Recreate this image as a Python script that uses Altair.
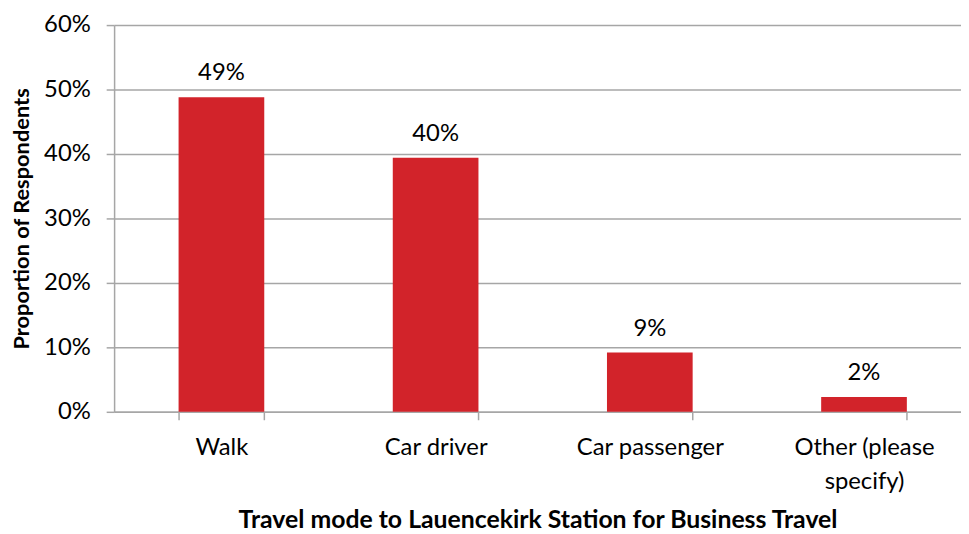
import altair as alt
import pandas as pd

categories = ["Walk", "Car driver", "Car passenger", "Other (please specify)"]
values = [0.488, 0.394, 0.092, 0.023]
labels = ["49%", "40%", "9%", "2%"]

df = pd.DataFrame({"mode": categories, "share": values, "label": labels})

FONT = "Lato"
RED = "#d2232a"
GRID = "#a6a6a6"
FS = 24

xscale = alt.Scale(paddingInner=0.6, paddingOuter=0.2769, align=0.5435)

x = alt.X(
    "mode:N",
    sort=categories,
    scale=xscale,
    axis=alt.Axis(
        title="Travel mode to Lauencekirk Station for Business Travel",
        titleFont=FONT, titleFontSize=25, titleFontWeight="bold", titleColor="#000",
        titlePadding=15, titleX=427,
        labelFont=FONT, labelFontSize=FS, labelColor="#000", labelAngle=0,
        labelPadding=16, labelLineHeight=34,
        labelExpr="datum.label == 'Other (please specify)' ? ['Other (please', 'specify)'] : datum.label",
        tickBand="extent", tickSize=8, tickColor=GRID, tickWidth=1.5,
        domainColor=GRID, domainWidth=1.5, grid=False,
    ),
)

y = alt.Y(
    "share:Q",
    scale=alt.Scale(domain=[0, 0.6]),
    axis=alt.Axis(
        title="Proportion of Respondents",
        titleFont=FONT, titleFontSize=22, titleFontWeight="bold", titleColor="#000",
        titlePadding=10,
        format=".0%", values=[0, 0.1, 0.2, 0.3, 0.4, 0.5, 0.6],
        labelFont=FONT, labelFontSize=FS, labelColor="#000", labelPadding=16,
        tickSize=8, tickColor=GRID, tickWidth=1.5,
        domainColor=GRID, domainWidth=1.5,
        grid=True, gridColor=GRID, gridWidth=1.5,
    ),
)

base = alt.Chart(df)
bars = base.mark_bar(color=RED).encode(x=x, y=y)
text = base.mark_text(dy=-12, baseline="bottom", font=FONT, fontSize=FS, color="#000").encode(
    x=alt.X("mode:N", sort=categories, scale=xscale), y="share:Q", text="label:N"
)

chart = (
    alt.layer(bars, text)
    .properties(
        width=854,
        height=390,
        autosize=alt.AutoSizeParams(type="none"),
        padding={"left": 107, "top": 15, "right": 0, "bottom": 120},
    )
    .configure_view(stroke=None)
    .configure_scale(bandPaddingOuter=0.2769, bandPaddingInner=0.6)
)

chart.save("out.html", embed_options={"renderer": "svg", "actions": False})
